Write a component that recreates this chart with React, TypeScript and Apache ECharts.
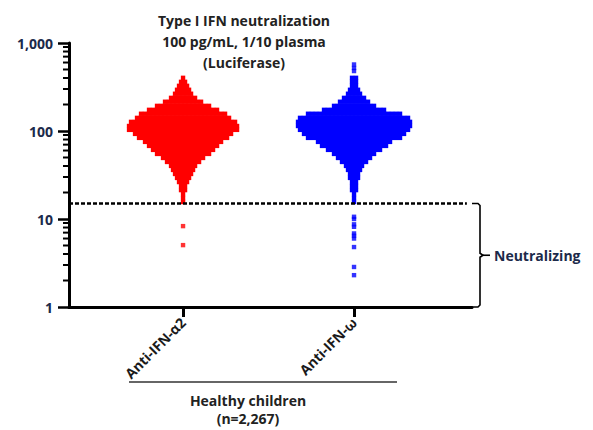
import React, { useEffect, useRef } from 'react';
import * as echarts from 'echarts';

// ---------- data ----------
const categories = ['Anti-IFN-α2', 'Anti-IFN-ω'];
const titleLines = ['Type I IFN neutralization', '100 pg/mL, 1/10 plasma', '(Luciferase)'];
const groupLines = ['Healthy children', '(n=2,267)'];
const bracketLabel = 'Neutralizing';

const yTickValues = [1, 10, 100, 1000];
const yTickLabels = ['1', '10', '100', '1,000'];
const yMinorTickValues = [2, 3, 4, 5, 6, 7, 8, 9, 20, 30, 40, 50, 60, 70, 80, 90, 200, 300, 400, 500, 600, 700, 800, 900];

// swarm rows (value of the row) and number of dots side by side in each row
const rowValues = [402, 362, 326, 294, 265, 238, 215, 193, 174, 157, 141, 127, 114, 103, 92.7, 83.5, 75.2, 67.7, 61.0, 54.9, 49.4, 44.5, 40.1, 36.1, 32.5, 29.3, 26.3, 23.7, 21.3, 19.2, 17.3, 15.6];
const alpha2RowCounts = [1, 2, 3, 4, 5, 7, 10, 14, 18, 22, 24, 27, 28, 28, 25, 23, 20, 18, 16, 14, 11, 9, 7, 6, 5, 4, 3, 2, 2, 1, 1, 1];
const omegaRowCounts = [2, 2, 2, 3, 4, 6, 8, 11, 16, 24, 28, 29, 29, 28, 26, 24, 19, 17, 14, 11, 9, 7, 5, 4, 3, 3, 2, 2, 2, 1, 1, 1];

// isolated single dots
const alpha2Singles = [8.3, 5.05];
const omegaSingles = [570, 520, 480, 10.6, 10.0, 8.7, 8.15, 6.85, 6.45, 6.0, 4.8, 2.85, 2.3];

const threshold = 15;
const yMin = 1;
const yMax = 1000;

// ---------- styles ----------
const RED = '#ff0000';
const BLUE = '#0000ff';
const NAVY = '#1c2a4a';
const FONT = '"Open Sans"';
const X_MIN = -0.667;
const X_MAX = 1.69;
const DASH_END = 1.66;

const swarmRender = (color: string) => (params: any, api: any) => {
  const c = api.coord([api.value(0), api.value(1)]);
  const n = api.value(2);
  const step = 4;
  const size = 4.4;
  const children: any[] = [];
  for (let i = 0; i < n; i++) {
    children.push({
      type: 'rect',
      shape: { x: c[0] - (n * step) / 2 + i * step - 0.2, y: c[1] - size / 2, width: size, height: size },
      style: { fill: color },
    });
  }
  return { type: 'group', children };
};

const minorTickRender = (params: any, api: any) => {
  const c = api.coord([X_MIN, api.value(1)]);
  return {
    type: 'line',
    shape: { x1: c[0] - 6, y1: c[1], x2: c[0], y2: c[1] },
    style: { stroke: '#000', lineWidth: 2 },
  };
};

const bracketRender = (params: any, api: any) => {
  const top = api.coord([api.value(0), api.value(1)]);
  const bot = api.coord([api.value(0), api.value(2)]);
  const x0 = top[0];
  const bx = x0 + 8;
  const mid = (top[1] + bot[1]) / 2;
  return {
    type: 'group',
    children: [
      {
        type: 'polyline',
        shape: {
          points: [
            [x0, top[1]], [bx - 2, top[1]], [bx, top[1] + 2], [bx, mid - 2], [bx + 3, mid],
            [bx, mid + 2], [bx, bot[1] - 2], [bx - 2, bot[1]], [x0, bot[1]],
          ],
        },
        style: { stroke: '#000', lineWidth: 1.6, fill: 'none' },
      },
      { type: 'line', shape: { x1: bx + 3, y1: mid, x2: bx + 10, y2: mid }, style: { stroke: '#000', lineWidth: 1.6 } },
      {
        type: 'text',
        style: {
          text: bracketLabel, x: bx + 14, y: mid, align: 'left', verticalAlign: 'middle',
          fill: NAVY, fontSize: 14, fontWeight: 'bold', fontFamily: FONT,
        },
      },
    ],
  };
};

const option: any = {
  animation: false,
  backgroundColor: '#ffffff',
  grid: { left: 69, right: 121, top: 43, bottom: 123, containLabel: false },
  xAxis: {
    type: 'value',
    min: X_MIN,
    max: X_MAX,
    splitLine: { show: false },
    axisLine: { show: true, onZero: false, lineStyle: { color: '#000', width: 3 } },
    axisTick: { show: true, customValues: [0, 1], length: 10, lineStyle: { color: '#000', width: 3 } },
    axisLabel: {
      customValues: [0, 1],
      formatter: (v: number) => categories[Math.round(v)] ?? '',
      rotate: 45,
      margin: 13,
      color: '#1a1a1a',
      fontSize: 14,
      fontWeight: 'bold',
      fontFamily: FONT,
    },
  },
  yAxis: {
    type: 'log',
    logBase: 10,
    min: yMin,
    max: yMax,
    splitLine: { show: false },
    axisLine: { show: true, onZero: false, lineStyle: { color: '#000', width: 3 } },
    axisTick: { show: true, customValues: yTickValues, length: 11, lineStyle: { color: '#000', width: 2.5 } },
    axisLabel: {
      customValues: yTickValues,
      formatter: (v: number) => yTickLabels[Math.round(Math.log10(v))] ?? '',
      margin: 16,
      color: NAVY,
      fontSize: 14,
      fontWeight: 'bold',
      fontFamily: FONT,
    },
  },
  graphic: [
    ...titleLines.map((t, i) => ({
      type: 'text',
      x: 244,
      y: [20, 41.5, 62.5][i],
      style: { text: t, align: 'center', verticalAlign: 'middle', fill: '#222', fontSize: 14, lineHeight: 16, fontWeight: 'bold', fontFamily: FONT },
    })),
    { type: 'line', shape: { x1: 129, y1: 382, x2: 397, y2: 382 }, style: { stroke: '#333', lineWidth: 1.5 } },
    ...groupLines.map((t, i) => ({
      type: 'text',
      x: 248,
      y: [400, 418][i],
      style: { text: t, align: 'center', verticalAlign: 'middle', fill: '#222', fontSize: 14, lineHeight: 16, fontWeight: 'bold', fontFamily: FONT },
    })),
  ],
  series: [
    {
      type: 'custom',
      name: 'minorTicks',
      silent: true,
      clip: false,
      encode: { x: 0, y: 1 },
      data: yMinorTickValues.map((v) => [X_MIN, v]),
      renderItem: minorTickRender,
    },
    {
      type: 'custom',
      name: categories[0],
      encode: { x: 0, y: 1 },
      data: rowValues.map((v, i) => [0, v, alpha2RowCounts[i]]),
      renderItem: swarmRender(RED),
      z: 3,
    },
    {
      type: 'custom',
      name: categories[1],
      encode: { x: 0, y: 1 },
      data: rowValues.map((v, i) => [1, v, omegaRowCounts[i]]),
      renderItem: swarmRender(BLUE),
      z: 3,
    },
    {
      type: 'scatter',
      name: categories[0] + ' singles',
      symbol: 'rect',
      symbolSize: 4.4,
      itemStyle: { color: RED },
      data: alpha2Singles.map((v) => [0, v]),
      z: 3,
    },
    {
      type: 'scatter',
      name: categories[1] + ' singles',
      symbol: 'rect',
      symbolSize: 4.4,
      itemStyle: { color: BLUE },
      data: omegaSingles.map((v) => [1, v]),
      z: 3,
      markLine: {
        silent: true,
        symbol: 'none',
        label: { show: false },
        lineStyle: { color: '#000', width: 2.5, type: [4, 2] },
        data: [[{ coord: [X_MIN, threshold] }, { coord: [DASH_END, threshold] }]],
        z: 4,
      },
    },
    {
      type: 'custom',
      name: 'bracket',
      silent: true,
      clip: false,
      encode: { x: 0, y: 1 },
      data: [[X_MAX, threshold, yMin]],
      renderItem: bracketRender,
    },
  ],
};

export default function App() {
  const ref = useRef<HTMLDivElement>(null);
  useEffect(() => {
    if (!ref.current) return;
    const chart = echarts.init(ref.current, null, { renderer: 'svg' });
    chart.setOption(option);
    return () => chart.dispose();
  }, []);
  return (
    <div
      ref={ref}
      style={{ position: 'fixed', left: 0, top: 0, width: 593, height: 430, background: '#fff' }}
    />
  );
}
